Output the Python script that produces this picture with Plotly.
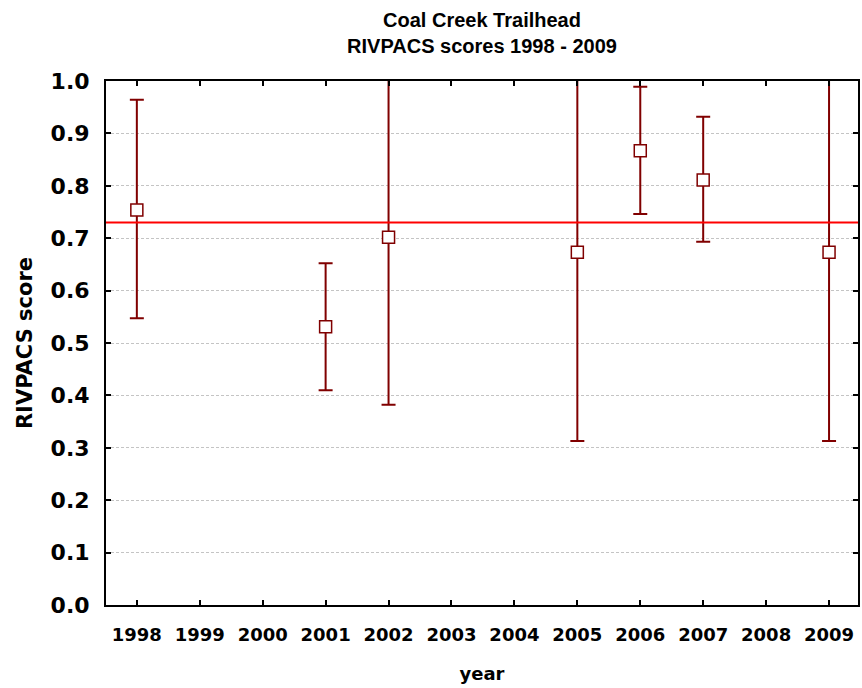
import plotly.graph_objects as go

years = [1998, 2001, 2002, 2005, 2006, 2007, 2009]
scores = [0.754, 0.531, 0.702, 0.673, 0.867, 0.811, 0.673]
upper = [0.964, 0.652, 1.022, 1.033, 0.989, 0.932, 1.033]
lower = [0.547, 0.410, 0.382, 0.313, 0.746, 0.693, 0.313]
reference_line = 0.73
tick_years = list(range(1998, 2010))
y_ticks = [round(i * 0.1, 1) for i in range(11)]

err_plus = [u - s for u, s in zip(upper, scores)]
err_minus = [s - l for s, l in zip(scores, lower)]

dark_red = "#800000"

fig = go.Figure()
fig.add_trace(go.Scatter(
    x=years, y=scores, mode="markers",
    marker=dict(symbol="square", size=12, color="white",
                line=dict(color=dark_red, width=1.5)),
    error_y=dict(type="data", symmetric=False, array=err_plus, arrayminus=err_minus,
                 color=dark_red, thickness=2, width=7),
    cliponaxis=True,
    showlegend=False,
))

fig.add_shape(type="line", xref="paper", x0=0, x1=1, yref="y",
              y0=reference_line, y1=reference_line,
              line=dict(color="#FF0000", width=2))

fig.update_layout(
    width=862, height=688,
    margin=dict(l=106, r=2, t=81, b=83),
    paper_bgcolor="white", plot_bgcolor="white",
    title=dict(text="Coal Creek Trailhead<br>RIVPACS scores 1998 - 2009",
               x=0.5, xanchor="center", xref="paper",
               y=1 - 27 / 688, yanchor="top", yref="container",
               font=dict(family="Liberation Sans Narrow, Arial Narrow, Liberation Sans",
                         size=20, color="black", weight="bold")),
    font=dict(family="DejaVu Sans", color="black"),
)

fig.update_xaxes(
    range=[1997.51, 2009.46], tickvals=tick_years, ticktext=[str(y) for y in tick_years],
    showgrid=False, zeroline=False,
    showline=True, linecolor="black", linewidth=2, mirror="ticks",
    ticks="inside", ticklen=5, tickcolor="black", tickwidth=1.5,
    ticklabelstandoff=12,
    tickfont=dict(family="DejaVu Sans", size=18, weight="bold", color="black"),
    title=dict(text="year", standoff=24,
               font=dict(family="DejaVu Sans", size=18, weight="bold", color="black")),
)
fig.update_yaxes(
    range=[0, 1.0], tickvals=y_ticks, ticktext=[f"{v:.1f}" for v in y_ticks],
    showgrid=True, gridcolor="#C4C4C4", griddash="3px,2px", gridwidth=1,
    zeroline=False,
    showline=True, linecolor="black", linewidth=2, mirror="ticks",
    ticks="inside", ticklen=5, tickcolor="black", tickwidth=2,
    ticklabelstandoff=10,
    tickfont=dict(family="DejaVu Sans", size=22, weight="bold", color="black"),
    title=dict(text="RIVPACS score", standoff=12,
               font=dict(family="DejaVu Sans", size=21, weight="bold", color="black")),
)

fig.write_html("out.html")
